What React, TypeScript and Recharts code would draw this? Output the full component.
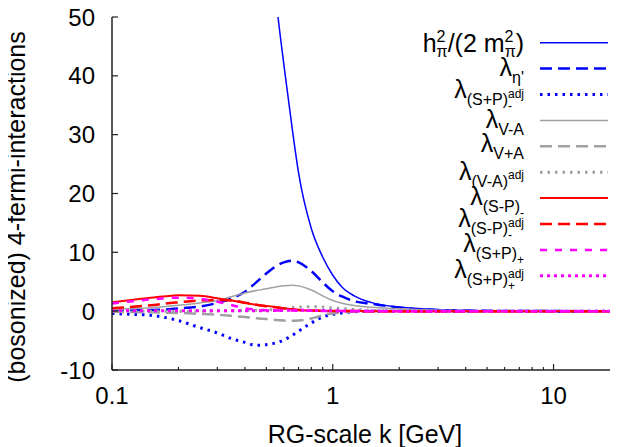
import { LineChart, Line, XAxis, YAxis, Customized } from 'recharts'

const FONT = '"Liberation Sans", Arial, Helvetica, sans-serif'

// RG scale k [GeV]
const K = [0.1, 0.125, 0.15, 0.175, 0.2, 0.25, 0.3, 0.35, 0.4, 0.45, 0.5, 0.55, 0.6, 0.65, 0.7, 0.8, 0.9, 1.0, 1.1, 1.25, 1.5, 2, 3, 5, 10, 20]

const H_PI =    [null, null, null, null, null, null, null, null, null, null, 72, 54, 42, 32, 23.5, 14, 9.2, 6.1, 4.1, 2.6, 1.45, 0.7, 0.25, 0.08, 0.02, 0]
const ETA_P =   [0, 0.1, 0.2, 0.3, 0.45, 0.8, 1.4, 2.2, 3.3, 4.9, 6.4, 7.6, 8.3, 8.55, 8.3, 6.8, 4.9, 3.4, 2.5, 1.7, 1.25, 0.6, 0.2, 0.05, 0.01, 0]
const SP_M_ADJ = [-0.4, -0.55, -0.7, -1.1, -1.6, -2.8, -3.7, -4.7, -5.3, -5.8, -5.7, -5.4, -4.9, -4.2, -3.4, -2.0, -1.0, -0.55, -0.3, -0.1, -0.03, 0, 0, 0, 0, 0]
const V_M_A =   [0.3, 0.45, 0.6, 0.8, 1.0, 1.4, 1.8, 2.5, 3.1, 3.5, 3.8, 4.1, 4.3, 4.4, 4.3, 3.6, 2.6, 1.8, 1.35, 0.95, 0.65, 0.4, 0.15, 0.05, 0.01, 0]
const V_P_A =   [-0.1, -0.15, -0.2, -0.25, -0.3, -0.45, -0.6, -0.8, -1.0, -1.2, -1.35, -1.5, -1.6, -1.65, -1.6, -1.25, -0.7, -0.4, -0.2, -0.1, -0.05, 0, 0, 0, 0, 0]
const V_M_A_ADJ = [0, 0, 0, 0, 0, 0.02, 0.05, 0.08, 0.1, 0.15, 0.2, 0.3, 0.45, 0.6, 0.7, 0.75, 0.7, 0.55, 0.45, 0.3, 0.15, 0.05, 0.02, 0, 0, 0]
const S_P_M =   [1.5, 1.95, 2.3, 2.55, 2.7, 2.6, 2.2, 1.8, 1.4, 1.1, 0.9, 0.7, 0.5, 0.35, 0.2, 0.1, 0.05, 0.03, 0.02, 0.01, 0, 0, 0, 0, 0, 0]
const S_P_M_ADJ = [0.5, 0.75, 1.0, 1.3, 1.5, 1.8, 1.9, 1.8, 1.45, 1.1, 0.85, 0.65, 0.45, 0.3, 0.2, 0.1, 0.05, 0.03, 0.02, 0.01, 0, 0, 0, 0, 0, 0]
const S_P_P =   [1.3, 1.7, 2.0, 2.2, 2.3, 2.1, 1.6, 1.0, 0.5, 0.25, 0.15, 0.12, 0.1, 0.1, 0.08, 0.05, 0.03, 0.02, 0.01, 0, 0, 0, 0, 0, 0, 0]
const S_P_P_ADJ = [0.05, 0.05, 0.05, 0.05, 0.05, 0.05, 0.05, 0.05, 0.05, 0.05, 0.08, 0.1, 0.12, 0.15, 0.15, 0.12, 0.1, 0.08, 0.05, 0.03, 0.02, 0, 0, 0, 0, 0]

const X_TICKS = [0.1, 0.2, 0.3, 0.4, 0.5, 0.6, 0.7, 0.8, 0.9, 1, 2, 3, 4, 5, 6, 7, 8, 9, 10]
const X_LABELS = ['0.1', '1', '10']
const Y_TICKS = [-10, 0, 10, 20, 30, 40, 50]

const SERIES = [
  { key: 'hpi', values: H_PI, color: '#0000ff', width: 1.5, dash: undefined },
  { key: 'etap', values: ETA_P, color: '#0000ff', width: 2.5, dash: '12 6' },
  { key: 'spmadj', values: SP_M_ADJ, color: '#0000ff', width: 3, dash: '2.5 5' },
  { key: 'vma', values: V_M_A, color: '#a0a0a0', width: 1.5, dash: undefined },
  { key: 'vpa', values: V_P_A, color: '#a0a0a0', width: 2.5, dash: '12 6' },
  { key: 'vmaadj', values: V_M_A_ADJ, color: '#a0a0a0', width: 3, dash: '2.5 5' },
  { key: 'smp', values: S_P_M, color: '#ff0000', width: 2, dash: undefined },
  { key: 'smpadj', values: S_P_M_ADJ, color: '#ff0000', width: 2.5, dash: '12 6' },
  { key: 'spp', values: S_P_P, color: '#ff00ff', width: 2.5, dash: '7 8' },
  { key: 'sppadj', values: S_P_P_ADJ, color: '#ff00ff', width: 3, dash: '3 4' },
]

// legend labels: subscript, sub-subscript, superscript
const LEGEND = [
  { key: 'hpi' },
  { key: 'etap', sub: "η'", shift: 7 },
  { key: 'spmadj', sub: '(S+P)', low: '-', sup: 'adj', shift: 3.7 },
  { key: 'vma', sub: 'V-A', shift: 7.4 },
  { key: 'vpa', sub: 'V+A', shift: 6 },
  { key: 'vmaadj', sub: '(V-A)', sup: 'adj', shift: 7.7 },
  { key: 'smp', sub: '(S-P)', low: '-', shift: 7.3 },
  { key: 'smpadj', sub: '(S-P)', low: '-', sup: 'adj', shift: 3.4 },
  { key: 'spp', sub: '(S+P)', low: '+', shift: 2.4 },
  { key: 'sppadj', sub: '(S+P)', low: '+', sup: 'adj', shift: 2.6 },
]

const rows = K.map((k, i) => {
  const r: Record<string, number | null> = { k }
  SERIES.forEach((s) => { r[s.key] = s.values[i] })
  return r
})

const isMajor = (v: number) => Math.abs(Math.log10(v) - Math.round(Math.log10(v))) < 1e-6
const AXIS = '#222'

function BottomTick({ x, y, payload }: any) {
  const major = isMajor(payload.value)
  const idx = Math.round(Math.log10(payload.value)) + 1
  return (
    <g>
      <line x1={x} x2={x} y1={y} y2={y - (major ? 6 : 3)} stroke={AXIS} strokeWidth={1.2} />
      {major && (
        <text x={x} y={y + 34} textAnchor="middle" fontSize={24} fontFamily={FONT} fill="#000">
          {X_LABELS[idx]}
        </text>
      )}
    </g>
  )
}

function TopTick({ x, y, payload }: any) {
  const major = isMajor(payload.value)
  return <line x1={x} x2={x} y1={y} y2={y + (major ? 6 : 3)} stroke={AXIS} strokeWidth={1.2} />
}

function LeftTick({ x, y, payload }: any) {
  return (
    <g>
      <line x1={x} x2={x + 6} y1={y} y2={y} stroke={AXIS} strokeWidth={1.2} />
      <text x={x - 17} y={y + 8.5} textAnchor="end" fontSize={24} fontFamily={FONT} fill="#000">
        {payload.value}
      </text>
    </g>
  )
}

const TX = 516
const SX1 = 532
const SX2 = 600
const Y0 = 34.7
const STEP = 25.9

function Labels() {
  return (
    <g fontFamily={FONT} fill="#000">
      {LEGEND.map((e, i) => {
        const s = SERIES.find((q) => q.key === e.key)!
        const ly = Y0 + i * STEP
        let text
        if (e.key === 'hpi') {
          text = (
            <text x={TX} y={ly + 9} textAnchor="end" fontSize={25}>
              h<tspan fontSize={16} dy={-10}>2</tspan>
              <tspan fontSize={16} dx={-8.9} dy={15}>π</tspan>
              <tspan fontSize={25} dy={-5}>/(2 m</tspan>
              <tspan fontSize={16} dy={-10}>2</tspan>
              <tspan fontSize={16} dx={-8.9} dy={15}>π</tspan>
              <tspan fontSize={25} dy={-5}>)</tspan>
            </text>
          )
        } else {
          const lowW = e.low === '+' ? 7 : 4
          text = (
            <text x={TX} y={ly + (e.shift ?? 7)} textAnchor="end" fontSize={25}>
              λ<tspan fontSize={16} dy={7}>{e.sub}</tspan>
              {e.low && <tspan fontSize={12} dy={5}>{e.low}</tspan>}
              {e.sup && (
                <tspan fontSize={12} dx={e.low ? -lowW : 0} dy={e.low ? -12.5 : -7.5}>{e.sup}</tspan>
              )}
            </text>
          )
        }
        return (
          <g key={e.key}>
            {text}
            <line x1={SX1} x2={SX2} y1={ly} y2={ly} stroke={s.color} strokeWidth={s.width} strokeDasharray={s.dash} />
          </g>
        )
      })}
      <text x={357} y={435} textAnchor="middle" fontSize={25}>RG-scale k [GeV]</text>
      <text x={8} y={199} textAnchor="middle" dominantBaseline="central" fontSize={25} transform="rotate(-90, 8, 199)">
        (bosonized) 4-fermi-interactions
      </text>
    </g>
  )
}

export default function App() {
  return (
    <LineChart width={620} height={439} data={rows} margin={{ top: 9, right: 8, bottom: 0, left: 0 }}>
      <XAxis
        dataKey="k"
        type="number"
        scale="log"
        domain={[0.1, 20]}
        allowDataOverflow
        ticks={X_TICKS}
        interval={0}
        height={77}
        tickSize={0}
        tickMargin={0}
        tickLine={false}
        tick={<BottomTick />}
        axisLine={{ stroke: AXIS, strokeWidth: 1.5 }}
      />
      <XAxis
        xAxisId="top"
        orientation="top"
        dataKey="k"
        type="number"
        scale="log"
        domain={[0.1, 20]}
        allowDataOverflow
        ticks={X_TICKS}
        interval={0}
        height={0}
        tickSize={0}
        tickMargin={0}
        tickLine={false}
        tick={<TopTick />}
        axisLine={{ stroke: AXIS, strokeWidth: 1.5 }}
      />
      <YAxis
        type="number"
        domain={[-10, 50]}
        allowDataOverflow
        ticks={Y_TICKS}
        interval={0}
        width={104}
        tickSize={0}
        tickMargin={0}
        tickLine={false}
        tick={<LeftTick />}
        axisLine={{ stroke: AXIS, strokeWidth: 1.5 }}
      />
      {SERIES.map((s) => (
        <Line
          key={s.key}
          dataKey={s.key}
          type="monotone"
          stroke={s.color}
          strokeWidth={s.width}
          strokeDasharray={s.dash}
          dot={false}
          activeDot={false}
          isAnimationActive={false}
        />
      ))}
      <Customized component={<Labels />} />
    </LineChart>
  )
}
